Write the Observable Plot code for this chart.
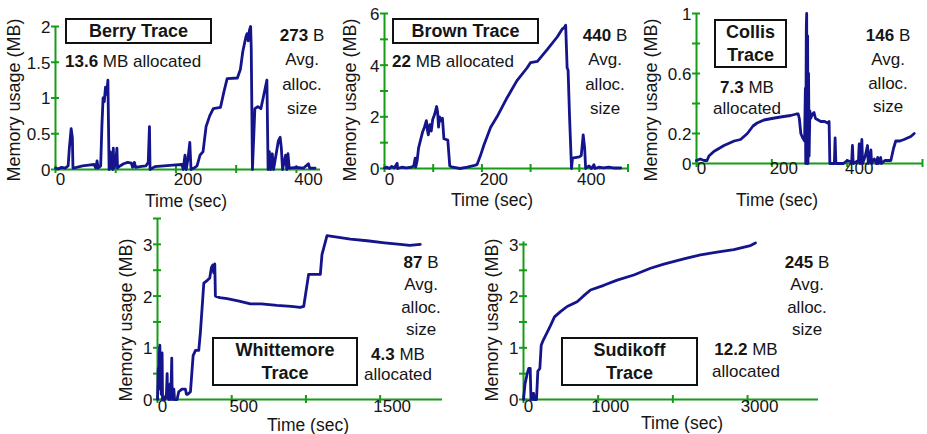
<!DOCTYPE html>
<html>
<head>
<meta charset="utf-8">
<script src="https://cdn.jsdelivr.net/npm/d3@7"></script>
<script src="https://cdn.jsdelivr.net/npm/@observablehq/plot@0.6"></script>
<style>
  body { margin: 0; background: #fff; }
  #wrap { position: relative; width: 927px; height: 434px; overflow: hidden; background: #fff;
          font-family: "Liberation Sans", Arial, Helvetica, sans-serif; color: #151515; }
  .panel { position: absolute; }
  .note { position: absolute; font-size: 17px; white-space: nowrap; }
  .center { transform: translateX(-50%); text-align: center; }
  .box { position: absolute; box-sizing: border-box; border: 2px solid #111; background: #fff;
         font-weight: bold; font-size: 18px; line-height: 23px; text-align: center;
         display: flex; flex-direction: column; justify-content: center; }
  .ytitle { position: absolute; font-size: 18px; white-space: nowrap; transform: translate(-50%, -50%) rotate(-90deg); }
  .xtitle { position: absolute; font-size: 17.5px; white-space: nowrap; transform: translate(-50%, -50%); }
</style>
</head>
<body>
<div id="wrap"></div>
<script>
const FONT = '"Liberation Sans", Arial, Helvetica, sans-serif';
const GREEN = "#169c16";
const NAVY = "#14148c";

// ---------- data (time in sec, memory in MB) ----------
const berryTime = [0,5,10,16,21,23,26,28,29,35,45,55,64,67,69,71,75,77,79,81,83,85,87,89,91,92,94,95,96,97,100,102,103,107,113,120,126,128,131,133,140,150,154,156,157,165,180,195,210,212,215,217,220,223,225,230,235,240,245,250,256,262,274,280,285,302,307,311,316,318,320,322,324,325,327,331,336,341,346,351,353,355,357,360,362,366,370,373,375,377,382,384,386,388,400,412,420,422,431];
const berryMem  = [0.02,0.01,0.03,0.02,0.05,0.3,0.57,0.45,0.02,0.03,0.05,0.06,0.07,0.02,0.12,0.02,0.05,0.6,1.0,0.95,1.15,1.05,1.25,0.0,0.25,0.02,0.12,0.0,0.3,0.02,0.1,0.3,0.02,0.05,0.08,0.1,0.09,0.03,0.1,0.03,0.04,0.05,0.1,0.6,0.0,0.04,0.05,0.06,0.07,0.0,0.2,0.0,0.15,0.38,0.0,0.02,0.05,0.2,0.25,0.6,0.75,0.85,0.87,1.1,1.27,1.28,1.4,1.65,1.85,1.9,1.8,1.95,2.0,1.7,0.0,0.85,0.88,0.85,1.05,1.25,0.0,0.25,0.0,0.22,0.0,0.2,0.4,0.45,0.3,0.0,0.2,0.0,0.22,0.02,0.03,0.02,0.08,0.02,0.02];

const brownTime = [0,5,10,15,20,26,27,35,45,55,60,63,64,67,70,74,78,82,86,88,90,93,96,99,103,107,109,111,113,116,119,122,130,134,140,155,170,185,190,197,204,218,231,252,272,293,300,314,334,355,365,369,372,375,377,380,384,386,400,404,408,411,413,420,425,430,432,440,450,460,470,485];
const brownMem  = [0.02,0.05,0.0,0.08,0.02,0.2,0.0,0.05,0.02,0.05,0.1,0.4,0.05,0.3,0.8,1.1,1.4,1.6,1.85,1.5,1.3,1.7,1.45,1.9,2.1,2.4,2.2,1.6,2.0,1.85,1.95,1.15,1.1,0.1,0.05,0.0,0.05,0.12,0.15,0.5,0.9,1.6,2.0,2.75,3.4,3.9,4.1,4.15,4.6,5.1,5.4,5.45,5.55,3.9,3.8,2.0,0.0,0.4,0.45,0.5,1.3,0.8,0.0,0.1,0.0,0.15,0.0,0.05,0.02,0.05,0.02,0.02];

const collisTime = [0,10,20,28,33,46,73,100,117,135,150,161,179,200,223,250,265,270,273,277,282,287,289,290,291.5,292.5,293.5,295,296,297.5,299,301,303,308,312,316,330,340,348,352,354,366,368,370,390,400,412,414,416,430,432,434,439,441,448,454,456,460,463,465,472,478,481,483,489,491,500,516,523,529,540,551,569,578];
const collisMem  = [0.02,0.03,0.02,0.02,0.05,0.08,0.12,0.15,0.16,0.2,0.25,0.27,0.29,0.3,0.31,0.32,0.33,0.33,0.3,0.2,0.17,0.15,0.5,0.0,0.9,1.0,0.0,0.85,0.0,0.6,0.05,0.35,0.3,0.33,0.34,0.3,0.28,0.28,0.27,0.28,0.0,0.0,0.17,0.0,0.0,0.02,0.01,0.12,0.0,0.02,0.13,0.0,0.16,0.0,0.05,0.12,0.0,0.04,0.09,0.0,0.03,0.0,0.04,0.0,0.04,0.0,0.02,0.02,0.1,0.15,0.15,0.16,0.18,0.2];

const whittemoreTime = [0,5,9,12,16,19,22,25,28,31,34,43,50,60,65,68,76,85,90,96,99,105,110,115,132,143,165,188,195,204,222,240,256,278,289,312,334,352,363,372,379,386,390,420,469,550,626,700,805,900,962,985,1018,1097,1108,1142,1187,1300,1412,1530,1635,1700,1770];
const whittemoreMem  = [0.0,0.6,0.3,0.9,1.05,0.2,0.7,0.1,0.5,0.9,0.0,0.05,0.0,0.1,0.5,0.05,0.0,0.3,0.0,0.8,0.05,0.0,0.2,0.0,0.0,0.15,0.2,0.2,0.1,0.1,0.15,0.85,0.95,0.95,1.3,2.25,2.3,2.35,2.55,2.6,2.45,2.62,2.0,1.97,1.95,1.9,1.85,1.85,1.82,1.8,1.78,1.8,2.42,2.42,2.8,3.17,3.15,3.1,3.07,3.03,3.0,2.98,3.0];

const sudikoffTime = [0,20,50,70,90,100,115,125,135,147,174,192,219,237,265,317,361,415,495,585,718,800,897,1075,1254,1477,1700,1879,2146,2369,2592,2816,3039,3106];
const sudikoffMem  = [0.0,0.3,0.5,0.6,0.6,0.0,0.12,0.0,0.12,0.0,0.0,0.55,0.6,1.05,1.15,1.3,1.43,1.6,1.7,1.8,1.89,2.0,2.12,2.21,2.31,2.41,2.54,2.62,2.72,2.8,2.85,2.9,2.98,3.03];

// ---------- labels / ticks ----------
const traceNames    = ["Berry", "Brown", "Collis", "Whittemore", "Sudikoff"];
const allocatedMB   = ["13.6", "22", "7.3", "4.3", "12.2"];
const avgAllocBytes = ["273", "440", "146", "87", "245"];
const xDomains   = [[0, 440], [0, 500], [0, 600], [0, 1920], [0, 3950]];
const yDomains   = [[0, 2], [0, 6], [0, 1], [0, 3.5], [0, 3.05]];
const xTickValues = [[0,100,200,300,400], [0,100,200,300,400,500], [0,200,400,600], [0,500,1000,1500], [0,1000,2000,3000]];
const xTickLabels = [[0,200,400], [0,200,400], [0,200,400], [0,500,1500], [0,1000,3000]];
const yTickValues = [[0,0.5,1,1.5,2], [0,1,2,3,4,5,6], [0,0.2,0.4,0.6,0.8,1], [0,0.5,1,1.5,2,2.5,3,3.5], [0,0.5,1,1.5,2,2.5,3]];
const yTickLabels = [[0,0.5,1,1.5,2], [0,2,4,6], [0,0.2,0.6,1], [0,1,2,3], [0,1,2,3]];
const series = [[berryTime, berryMem], [brownTime, brownMem], [collisTime, collisMem], [whittemoreTime, whittemoreMem], [sudikoffTime, sudikoffMem]];

// ---------- layout ----------
const layout = [
  {left: 0,   top: 0,   w: 330, h: 215, ml: 55, mr: 10,  mt: 26,   mb: 46, xdy: 15,
   yTitle: [14, 100], xTitle: [186, 201],
   box: {x: 65, y: 18, w: 147, h: 26}, twoLine: false,
   alloc: {x: 65, y: 62, lh: 24, center: false}, avg: {x: 302, y: 36, lh: 24.5}},
  {left: 330, top: 0,   w: 310, h: 215, ml: 54, mr: 12.5, mt: 13,  mb: 47, xdy: 16,
   yTitle: [350, 100], xTitle: [492, 200],
   box: {x: 392, y: 18, w: 147, h: 26}, twoLine: false,
   alloc: {x: 392, y: 62, lh: 24, center: false}, avg: {x: 605, y: 36, lh: 24.5}},
  {left: 640, top: 0,   w: 287, h: 215, ml: 56, mr: 5,   mt: 13,   mb: 52, xdy: 10,
   yTitle: [651, 100], xTitle: [777, 200],
   box: {x: 714, y: 19, w: 73, h: 49}, twoLine: true,
   alloc: {x: 747, y: 87, lh: 21, center: true}, avg: {x: 888, y: 36, lh: 23.7}},
  {left: 100, top: 215, w: 350, h: 219, ml: 57, mr: 8,   mt: 3,    mb: 35, xdy: 12,
   yTitle: [126, 320], xTitle: [308, 425],
   box: {x: 212, y: 337, w: 146, h: 49}, twoLine: true,
   alloc: {x: 398, y: 355, lh: 20, center: true}, avg: {x: 421, y: 263, lh: 22.5}},
  {left: 450, top: 215, w: 477, h: 219, ml: 73, mr: 109, mt: 26.4, mb: 35, xdy: 12,
   yTitle: [492, 320], xTitle: [682, 423],
   box: {x: 561, y: 337, w: 137, h: 49}, twoLine: true,
   alloc: {x: 746, y: 350, lh: 22, center: true}, avg: {x: 807, y: 263, lh: 22.5}}
];

const wrap = document.getElementById("wrap");

function addDiv(cls, html, style) {
  const d = document.createElement("div");
  d.className = cls;
  d.innerHTML = html;
  Object.assign(d.style, style);
  wrap.appendChild(d);
  return d;
}

traceNames.forEach((name, i) => {
  const L = layout[i];
  const [T, M] = series[i];
  const data = T.map((t, k) => ({t, m: M[k]}));
  const xl = xTickLabels[i];
  const textOpts = {fontSize: 17, fontFamily: FONT, fill: "#151515", text: d => String(d)};

  const chart = Plot.plot({
    width: L.w, height: L.h,
    marginLeft: L.ml, marginRight: L.mr, marginTop: L.mt, marginBottom: L.mb,
    style: {background: "transparent", overflow: "visible", fontFamily: FONT},
    x: {domain: xDomains[i], label: null},
    y: {domain: yDomains[i], label: null},
    marks: [
      Plot.ruleY([0], {stroke: GREEN, strokeWidth: 2}),
      Plot.ruleX([0], {stroke: GREEN, strokeWidth: 2}),
      Plot.axisX(xTickValues[i], {tickSize: 8, dy: -4, stroke: GREEN, strokeWidth: 2, tickFormat: () => "", label: null}),
      Plot.axisY(yTickValues[i], {tickSize: 8, dx: 4, stroke: GREEN, strokeWidth: 2, tickFormat: () => "", label: null}),
      Plot.text(xl.filter(v => v === 0), {...textOpts, x: d => d, frameAnchor: "bottom", dy: L.xdy, dx: 5}),
      Plot.text(xl.filter(v => v !== 0), {...textOpts, x: d => d, frameAnchor: "bottom", dy: L.xdy, dx: 12}),
      Plot.text(yTickLabels[i], {...textOpts, y: d => d, frameAnchor: "left", dx: -5, dy: 1, textAnchor: "end"}),
      Plot.line(data, {x: "t", y: "m", stroke: NAVY, strokeWidth: 2.8, strokeLinejoin: "round", strokeLinecap: "round"})
    ]
  });
  chart.classList.add("panel");
  chart.style.left = L.left + "px";
  chart.style.top = L.top + "px";
  wrap.appendChild(chart);

  // axis titles
  addDiv("ytitle", "Memory usage (MB)", {left: L.yTitle[0] + "px", top: L.yTitle[1] + "px"});
  addDiv("xtitle", "Time (sec)", {left: L.xTitle[0] + "px", top: L.xTitle[1] + "px"});

  // title box
  const titleLines = L.twoLine ? [name, "Trace"] : [name + " Trace"];
  addDiv("box", titleLines.map(s => `<div>${s}</div>`).join(""),
    {left: L.box.x + "px", top: L.box.y + "px", width: L.box.w + "px", height: L.box.h + "px"});

  // allocated note
  const allocLines = L.alloc.center ? [`<b>${allocatedMB[i]}</b> MB`, "allocated"] : [`<b>${allocatedMB[i]}</b> MB allocated`];
  addDiv("note" + (L.alloc.center ? " center" : ""), allocLines.map(s => `<div>${s}</div>`).join(""),
    {left: L.alloc.x + "px", top: (L.alloc.y - L.alloc.lh / 2) + "px", lineHeight: L.alloc.lh + "px"});

  // average allocation size note
  const avgLines = [`<b>${avgAllocBytes[i]}</b> B`, "Avg.", "alloc.", "size"];
  addDiv("note center", avgLines.map(s => `<div>${s}</div>`).join(""),
    {left: L.avg.x + "px", top: (L.avg.y - L.avg.lh / 2) + "px", lineHeight: L.avg.lh + "px"});
});
</script>
</body>
</html>
